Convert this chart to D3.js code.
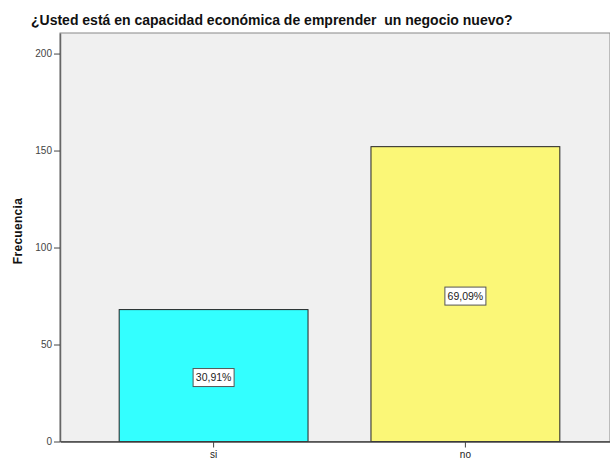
<!DOCTYPE html>
<html>
<head>
<meta charset="utf-8">
<script src="https://cdn.jsdelivr.net/npm/d3@7"></script>
<style>
  body { margin: 0; background: #fff; }
  svg { display: block; font-family: "Liberation Sans", Arial, sans-serif; }
</style>
</head>
<body>
<div id="chart"></div>
<script>
const categories = ['si', 'no'];
const frequencies = [68, 152];
const percentLabels = ['30,91%', '69,09%'];
const barColors = ['#33ffff', '#fbf777'];
const yTicks = [0, 50, 100, 150, 200];

const width = 610, height = 461;
const margin = { top: 33, right: -9, bottom: 19.5, left: 60 };

const svg = d3.select('#chart').append('svg')
    .attr('width', width)
    .attr('height', height);

const x = d3.scaleBand()
    .domain(categories)
    .range([margin.left, width - margin.right])
    .paddingInner(0.25)
    .paddingOuter(0.235);

const y = d3.scaleLinear()
    .domain([0, 210.6])
    .range([height - margin.bottom, margin.top]);

// plot background
svg.append('rect')
    .attr('x', margin.left)
    .attr('y', margin.top)
    .attr('width', width - margin.left)
    .attr('height', y(0) - margin.top)
    .attr('fill', '#f0f0f0')
    .attr('stroke', '#888')
    .attr('stroke-width', 1);

// bars
svg.selectAll('.bar')
    .data(categories)
    .enter()
    .append('rect')
    .attr('class', 'bar')
    .attr('x', (d) => x(d))
    .attr('y', (d, i) => y(frequencies[i]))
    .attr('width', x.bandwidth())
    .attr('height', (d, i) => y(0) - y(frequencies[i]))
    .attr('fill', (d, i) => barColors[i])
    .attr('stroke', '#222')
    .attr('stroke-width', 1);

// percent labels
const lab = svg.selectAll('.pct')
    .data(categories)
    .enter()
    .append('g')
    .attr('class', 'pct')
    .attr('transform', (d, i) =>
        `translate(${x(d) + x.bandwidth() / 2},${(y(frequencies[i]) + y(0)) / 2 + 2})`);

lab.append('rect')
    .attr('x', -20.5)
    .attr('y', -9)
    .attr('width', 41)
    .attr('height', 18)
    .attr('fill', '#fff')
    .attr('stroke', '#555')
    .attr('stroke-width', 1);

lab.append('text')
    .attr('dy', '0.35em')
    .attr('text-anchor', 'middle')
    .attr('font-size', 10.5)
    .attr('fill', '#222')
    .text((d, i) => percentLabels[i]);

// y axis
const yAxis = svg.append('g')
    .attr('transform', `translate(${margin.left},0)`)
    .call(d3.axisLeft(y).tickValues(yTicks).tickSize(6).tickPadding(2).tickSizeOuter(0));
yAxis.select('.domain').attr('stroke', '#666').attr('stroke-width', 1.5);
yAxis.selectAll('.tick line').attr('stroke', '#444');
yAxis.selectAll('.tick text').attr('font-size', 10).attr('fill', '#444');

// x axis
const xAxis = svg.append('g')
    .attr('transform', `translate(0,${y(0)})`)
    .call(d3.axisBottom(x).tickSize(6).tickPadding(3).tickSizeOuter(0));
xAxis.select('.domain').attr('stroke', '#444').attr('stroke-width', 1.5);
xAxis.selectAll('.tick line').attr('stroke', '#444');
xAxis.selectAll('.tick text').attr('font-size', 10).attr('fill', '#222');

// title
svg.append('text')
    .attr('x', 31)
    .attr('y', 25)
    .attr('font-size', 14)
    .attr('font-weight', 'bold')
    .attr('fill', '#111')
    .attr('xml:space', 'preserve')
    .style('white-space', 'pre')
    .text('¿Usted está en capacidad económica de emprender  un negocio nuevo?');

// y label
svg.append('text')
    .attr('transform', 'translate(22,231) rotate(-90)')
    .attr('text-anchor', 'middle')
    .attr('font-size', 12)
    .attr('font-weight', 'bold')
    .attr('letter-spacing', 0.3)
    .attr('fill', '#111')
    .text('Frecuencia');
</script>
</body>
</html>
